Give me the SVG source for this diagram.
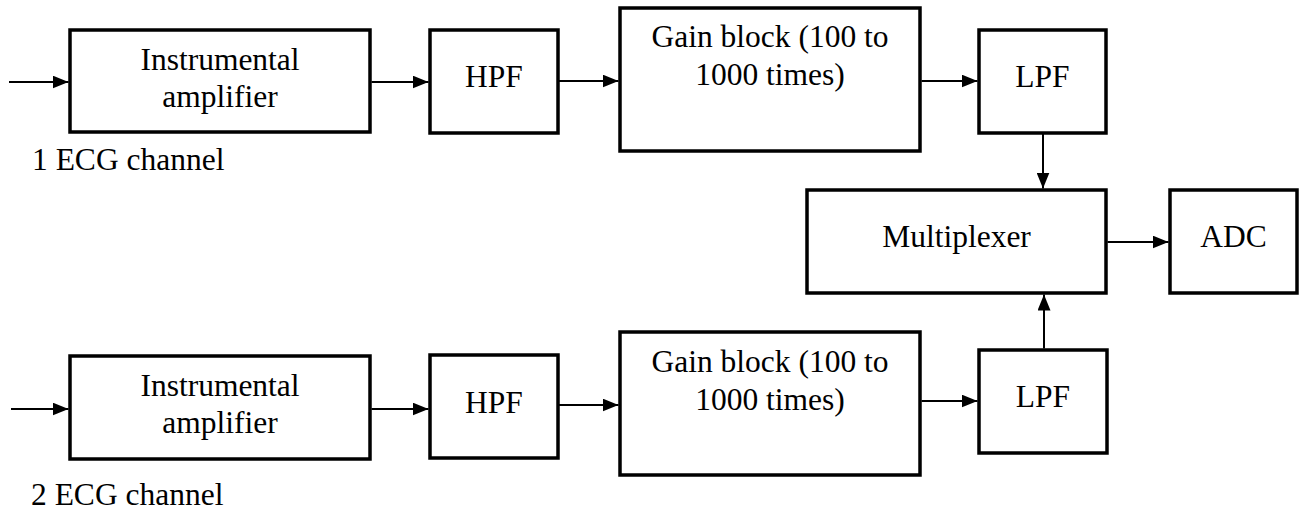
<svg xmlns="http://www.w3.org/2000/svg" width="1304" height="512" viewBox="0 0 1304 512">
  <style>
    .box { fill: #ffffff; stroke: #000000; stroke-width: 3.5; }
    .wire { fill: none; stroke: #000000; stroke-width: 2; marker-end: url(#arrow); }
    text { font-family: "Liberation Serif", "Times New Roman", serif; font-size: 31.5px; fill: #000000; }
    .c { text-anchor: middle; }
  </style>
  <defs>
    <marker id="arrow" markerUnits="userSpaceOnUse" markerWidth="16" markerHeight="13" refX="16" refY="6.5" orient="auto">
      <path d="M0,0 L16,6.5 L0,13 z" fill="#000000"/>
    </marker>
  </defs>

  <rect width="1304" height="512" fill="#ffffff"/>

  <!-- channel 1 -->
  <g id="instr1">
    <rect class="box" x="70" y="30" width="300" height="102"/>
    <text class="c" x="220" y="70">Instrumental</text>
    <text class="c" x="220" y="107">amplifier</text>
  </g>
  <g id="hpf1">
    <rect class="box" x="430" y="30" width="128" height="103"/>
    <text class="c" x="494" y="87">HPF</text>
  </g>
  <g id="gain1">
    <rect class="box" x="620" y="8" width="300" height="143"/>
    <text class="c" x="770" y="47">Gain block (100 to</text>
    <text class="c" x="770" y="85">1000 times)</text>
  </g>
  <g id="lpf1">
    <rect class="box" x="979" y="30" width="127" height="103"/>
    <text class="c" x="1042.5" y="87">LPF</text>
  </g>
  <g id="label1">
    <text x="32" y="170">1 ECG channel</text>
  </g>

  <!-- shared stages -->
  <g id="mux">
    <rect class="box" x="807" y="190" width="299" height="103"/>
    <text class="c" x="956.5" y="247">Multiplexer</text>
  </g>
  <g id="adc">
    <rect class="box" x="1170" y="190" width="127" height="103"/>
    <text class="c" x="1233.5" y="247">ADC</text>
  </g>

  <!-- channel 2 -->
  <g id="instr2">
    <rect class="box" x="70" y="356" width="300" height="103"/>
    <text class="c" x="220" y="396">Instrumental</text>
    <text class="c" x="220" y="433">amplifier</text>
  </g>
  <g id="hpf2">
    <rect class="box" x="430" y="355" width="128" height="103"/>
    <text class="c" x="494" y="413">HPF</text>
  </g>
  <g id="gain2">
    <rect class="box" x="620" y="332" width="300" height="143"/>
    <text class="c" x="770" y="372">Gain block (100 to</text>
    <text class="c" x="770" y="410">1000 times)</text>
  </g>
  <g id="lpf2">
    <rect class="box" x="979" y="350" width="128" height="103"/>
    <text class="c" x="1043" y="407">LPF</text>
  </g>
  <g id="label2">
    <text x="31" y="505">2 ECG channel</text>
  </g>

  <!-- signal flow -->
  <g id="connectors">
    <path class="wire" d="M9,82 H68.5"/>
    <path class="wire" d="M371.5,82 H428.5"/>
    <path class="wire" d="M558.5,81 H618.5"/>
    <path class="wire" d="M921.5,81 H977.5"/>
    <path class="wire" d="M1043,133.5 V188.5"/>
    <path class="wire" d="M1107.5,242 H1168.5"/>
    <path class="wire" d="M1044,348.5 V294.5"/>
    <path class="wire" d="M11,409 H68.5"/>
    <path class="wire" d="M371.5,409 H428.5"/>
    <path class="wire" d="M558.5,405 H618.5"/>
    <path class="wire" d="M921.5,401 H977.5"/>
  </g>
</svg>
